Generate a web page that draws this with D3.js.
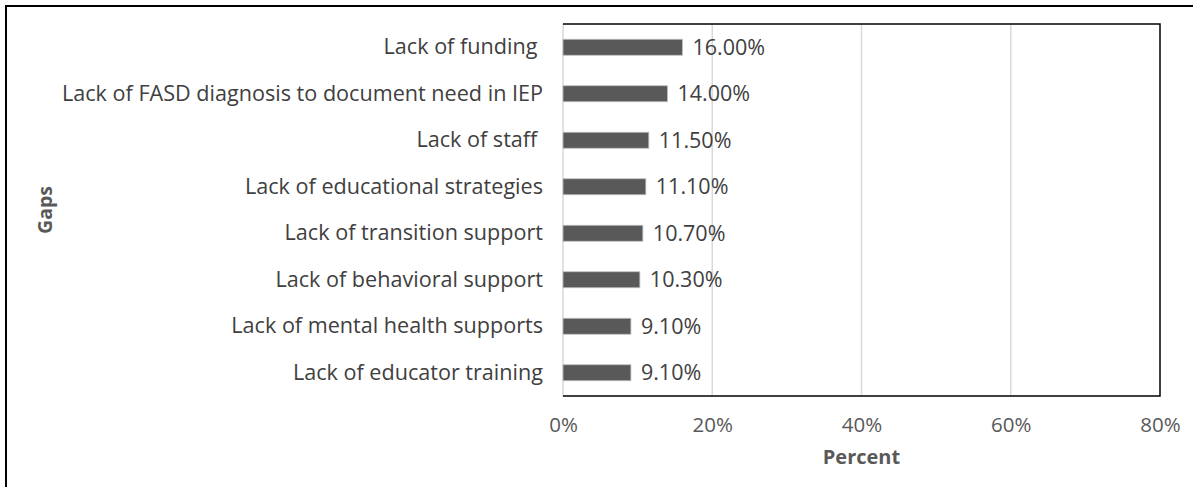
<!DOCTYPE html>
<html>
<head>
<meta charset="utf-8">
<script src="https://cdn.jsdelivr.net/npm/d3@7"></script>
<style>
  body { margin: 0; background: #fff; }
  svg text { font-family: "Open Sans", "Noto Sans", sans-serif; }
</style>
</head>
<body>
<div id="chart"></div>
<script>
// data, top to bottom
var gaps = [
  "Lack of funding ",
  "Lack of FASD diagnosis to document need in IEP",
  "Lack of staff ",
  "Lack of educational strategies",
  "Lack of transition support",
  "Lack of behavioral support",
  "Lack of mental health supports",
  "Lack of educator training"
];
var percents = [16.0, 14.0, 11.5, 11.1, 10.7, 10.3, 9.1, 9.1];
var xTicks = [0, 20, 40, 60, 80];

var W = 1193, H = 487;
var plot = { left: 563, top: 24, right: 1160, bottom: 396 };

var svg = d3.select("#chart").append("svg")
    .attr("width", W)
    .attr("height", H);

// outer frame (only top and left edges are in view)
svg.append("rect")
    .attr("x", 6).attr("y", 6)
    .attr("width", W + 10).attr("height", H + 10)
    .attr("fill", "none")
    .attr("stroke", "#000")
    .attr("stroke-width", 2);

var x = d3.scaleLinear().domain([0, 80]).range([plot.left, plot.right]);
var y = d3.scaleBand().domain(gaps).range([plot.top, plot.bottom]).paddingInner(0.656).paddingOuter(0.328);

// gridlines
svg.append("g").selectAll("line")
    .data(xTicks.slice(0, -1))
    .enter().append("line")
    .attr("x1", function(d) { return x(d); })
    .attr("x2", function(d) { return x(d); })
    .attr("y1", plot.top)
    .attr("y2", plot.bottom)
    .attr("stroke", "#d9d9d9")
    .attr("stroke-width", 1.5);

// plot border: top, right, bottom
svg.append("path")
    .attr("d", "M" + plot.left + "," + plot.top + "H" + plot.right + "V" + plot.bottom + "H" + plot.left)
    .attr("fill", "none")
    .attr("stroke", "#000")
    .attr("stroke-width", 1.5);

// bars
var rows = gaps.map(function(g, i) { return { gap: g, value: percents[i] }; });

svg.append("g").selectAll("rect")
    .data(rows)
    .enter().append("rect")
    .attr("x", x(0))
    .attr("y", function(d) { return y(d.gap); })
    .attr("width", function(d) { return x(d.value) - x(0); })
    .attr("height", y.bandwidth())
    .attr("fill", "#595959")
    .attr("stroke", "#bfbfbf")
    .attr("stroke-width", 0.8);

// value labels
svg.append("g").selectAll("text")
    .data(rows)
    .enter().append("text")
    .attr("x", function(d) { return x(d.value) + 10; })
    .attr("y", function(d) { return y(d.gap) + y.bandwidth() / 2; })
    .attr("dy", "0.35em")
    .attr("font-size", 21.5)
    .attr("fill", "#404040")
    .text(function(d) { return d.value.toFixed(2) + "%"; });

// category axis
var yAxis = svg.append("g")
    .attr("transform", "translate(" + (plot.left - 20) + ",0)")
    .call(d3.axisLeft(y).tickSize(0).tickPadding(0));
yAxis.select(".domain").remove();
yAxis.selectAll("text")
    .attr("font-size", 21.6)
    .attr("fill", "#404040")
    .style("white-space", "pre")
    .attr("font-family", null);

// percent axis
var xAxis = svg.append("g")
    .attr("transform", "translate(0," + plot.bottom + ")")
    .call(d3.axisBottom(x).tickValues(xTicks).tickSize(0).tickPadding(21)
      .tickFormat(function(d) { return d + "%"; }));
xAxis.select(".domain").remove();
xAxis.selectAll("text")
    .attr("font-size", 20.5)
    .attr("fill", "#595959")
    .attr("font-family", null);

// axis titles
svg.append("text")
    .attr("x", (plot.left + plot.right) / 2)
    .attr("y", 457)
    .attr("dy", "0.35em")
    .attr("text-anchor", "middle")
    .attr("font-size", 20)
    .attr("font-weight", "bold")
    .attr("fill", "#595959")
    .text("Percent");

svg.append("text")
    .attr("transform", "translate(45," + ((plot.top + plot.bottom) / 2) + ") rotate(-90)")
    .attr("dy", "0.35em")
    .attr("text-anchor", "middle")
    .attr("font-size", 19.5)
    .attr("font-weight", "bold")
    .attr("fill", "#595959")
    .text("Gaps");
</script>
</body>
</html>
